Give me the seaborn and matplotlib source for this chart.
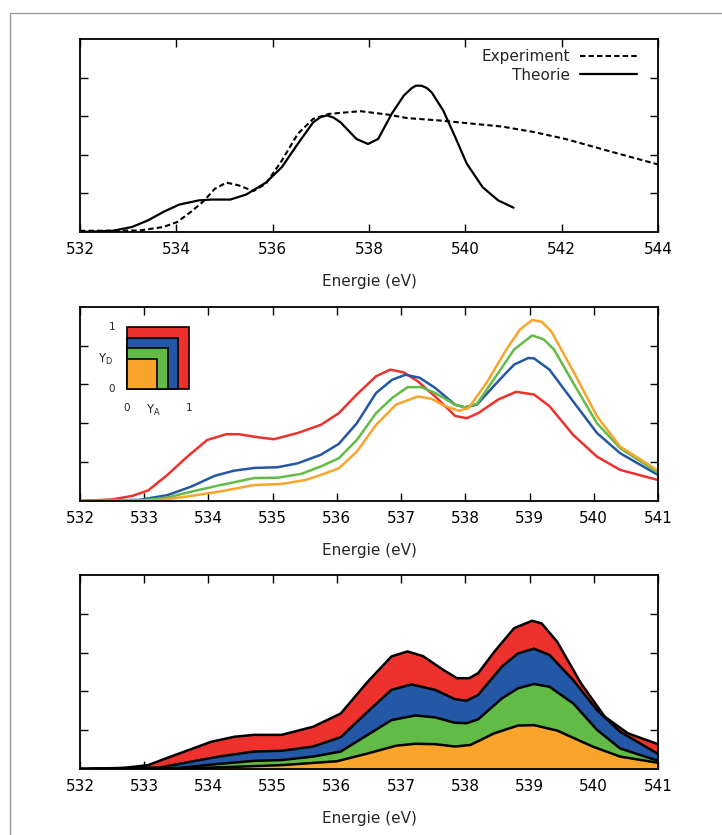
import numpy as np
import pandas as pd
import seaborn as sns
import matplotlib
matplotlib.use("Agg")
import matplotlib.pyplot as plt
from matplotlib.patches import Rectangle
from matplotlib.lines import Line2D

# --- Oben: Experiment vs. Theorie ---
exp_x = [532.0, 533.24, 533.73, 534.02, 534.3, 534.55, 534.8, 535.04, 535.29, 535.6,
         535.86, 536.19, 536.52, 536.84, 537.17, 537.82, 538.4, 538.8, 539.46, 540.2,
         540.77, 541.42, 542.08, 543.06, 544.0]
exp_y = [0.03, 0.04, 0.13, 0.26, 0.52, 0.78, 1.12, 1.28, 1.21, 1.06,
         1.25, 1.85, 2.54, 2.93, 3.06, 3.13, 3.04, 2.95, 2.89, 2.80,
         2.73, 2.59, 2.41, 2.07, 1.75]

theo_x = [532.0, 532.67, 533.08, 533.41, 533.73, 534.06, 534.47, 534.72, 535.12, 535.45,
          535.86, 536.19, 536.52, 536.84, 537.0, 537.13, 537.27, 537.41, 537.74, 537.98,
          538.19, 538.47, 538.72, 538.88, 538.97, 539.09, 539.2, 539.3, 539.54, 539.79,
          540.03, 540.36, 540.68, 541.0]
theo_y = [0.0, 0.03, 0.13, 0.30, 0.52, 0.71, 0.82, 0.84, 0.84, 0.97,
          1.28, 1.68, 2.28, 2.84, 2.98, 3.02, 2.96, 2.84, 2.41, 2.28,
          2.41, 3.06, 3.53, 3.72, 3.79, 3.79, 3.73, 3.62, 3.15, 2.46,
          1.77, 1.16, 0.82, 0.63]

# --- Mitte: Spektren fuer verschiedene Y_A / Y_D ---
red_x = [532.0, 532.5, 532.81, 533.06, 533.36, 533.67, 533.98, 534.28, 534.47, 534.77,
         535.02, 535.39, 535.75, 536.03, 536.31, 536.61, 536.83, 537.04, 537.26, 537.53,
         537.84, 538.02, 538.2, 538.51, 538.79, 539.07, 539.31, 539.68, 540.05, 540.41, 541.0]
red_y = [0.0, 0.04, 0.13, 0.27, 0.67, 1.14, 1.57, 1.72, 1.72, 1.64,
         1.59, 1.75, 1.96, 2.26, 2.74, 3.21, 3.38, 3.31, 3.08, 2.69,
         2.19, 2.13, 2.26, 2.61, 2.81, 2.74, 2.44, 1.70, 1.14, 0.80, 0.54]

blue_x = [532.0, 532.93, 533.36, 533.73, 534.1, 534.4, 534.71, 535.08, 535.39, 535.75,
          536.03, 536.31, 536.61, 536.86, 537.07, 537.29, 537.53, 537.84, 537.99, 538.18,
          538.51, 538.76, 538.98, 539.07, 539.31, 539.68, 540.05, 540.41, 541.0]
blue_y = [0.0, 0.03, 0.15, 0.37, 0.65, 0.78, 0.85, 0.87, 0.97, 1.19,
          1.47, 2.00, 2.78, 3.12, 3.25, 3.17, 2.91, 2.48, 2.41, 2.48,
          3.08, 3.51, 3.68, 3.67, 3.38, 2.56, 1.75, 1.23, 0.67]

green_x = [532.0, 532.93, 533.36, 533.73, 534.16, 534.71, 535.08, 535.45, 535.75, 536.03,
           536.31, 536.61, 536.86, 537.1, 537.31, 537.53, 537.84, 537.99, 538.18, 538.51,
           538.76, 539.04, 539.22, 539.38, 539.68, 540.05, 540.41, 541.0]
green_y = [0.0, 0.01, 0.09, 0.24, 0.40, 0.59, 0.60, 0.70, 0.89, 1.10,
           1.57, 2.26, 2.65, 2.93, 2.93, 2.78, 2.48, 2.41, 2.50, 3.29,
           3.90, 4.26, 4.16, 3.90, 3.04, 2.00, 1.36, 0.73]

orange_x = [532.0, 533.24, 533.73, 534.16, 534.71, 535.14, 535.51, 535.75, 536.03, 536.31,
            536.61, 536.92, 537.26, 537.47, 537.69, 537.9, 538.05, 538.33, 538.64, 538.85,
            539.04, 539.19, 539.34, 539.68, 540.05, 540.41, 541.0]
orange_y = [0.0, 0.02, 0.13, 0.24, 0.41, 0.44, 0.54, 0.67, 0.84, 1.27,
            1.96, 2.48, 2.69, 2.63, 2.44, 2.32, 2.39, 3.04, 3.90, 4.41,
            4.66, 4.61, 4.36, 3.34, 2.18, 1.40, 0.78]

# --- Unten: gestapelte Beitraege (kumulativ) ---
s_orange_x = [532.0, 533.55, 534.47, 535.14, 536.0, 536.48, 536.92, 537.22, 537.53, 537.84,
              538.08, 538.45, 538.82, 539.07, 539.43, 539.98, 540.41, 541.0]
s_orange_y = [0.0, 0.01, 0.06, 0.10, 0.20, 0.40, 0.60, 0.65, 0.64, 0.58,
              0.62, 0.92, 1.12, 1.13, 0.99, 0.58, 0.32, 0.16]

s_green_x = [532.0, 533.55, 534.16, 534.71, 535.14, 535.63, 536.06, 536.48, 536.85, 537.22,
             537.53, 537.84, 538.02, 538.2, 538.57, 538.82, 539.07, 539.31, 539.68, 540.05,
             540.41, 541.0]
s_green_y = [0.0, 0.03, 0.13, 0.21, 0.23, 0.32, 0.45, 0.88, 1.26, 1.38,
             1.33, 1.19, 1.18, 1.28, 1.82, 2.08, 2.19, 2.12, 1.69, 1.01,
             0.53, 0.21]

s_blue_x = [532.0, 533.24, 533.73, 534.16, 534.71, 535.14, 535.63, 536.06, 536.48, 536.85,
            537.16, 537.53, 537.84, 538.02, 538.2, 538.57, 538.82, 539.07, 539.31, 539.68,
            540.05, 540.41, 541.0]
s_blue_y = [0.0, 0.04, 0.19, 0.32, 0.45, 0.47, 0.58, 0.82, 1.48, 2.04,
            2.18, 2.04, 1.80, 1.76, 1.91, 2.64, 2.98, 3.10, 2.94, 2.29,
            1.52, 0.96, 0.39]

s_red_x = [532.0, 532.69, 533.06, 533.48, 534.04, 534.4, 534.71, 535.14, 535.63, 536.06,
           536.48, 536.85, 537.1, 537.34, 537.66, 537.87, 538.06, 538.2, 538.45, 538.76,
           539.04, 539.19, 539.43, 539.8, 540.17, 540.53, 541.0]
s_red_y = [0.0, 0.03, 0.10, 0.36, 0.70, 0.83, 0.88, 0.88, 1.09, 1.43,
           2.25, 2.90, 3.03, 2.91, 2.55, 2.34, 2.34, 2.47, 3.02, 3.63,
           3.82, 3.75, 3.28, 2.21, 1.35, 0.92, 0.64]

# Inset: Kantenlaengen der Quadrate (Y_A = Y_D)
inset_sizes = [1.0, 0.825, 0.665, 0.49]

RED = "#ED322D"
BLUE = "#2457A5"
GREEN = "#63BB47"
ORANGE = "#F9A42B"
inset_colors = [RED, BLUE, GREEN, ORANGE]

FS = 11

sns.set_style("ticks")
plt.rcParams["font.family"] = ["DejaVu Sans"]
plt.rcParams["font.size"] = FS

fig = plt.figure(figsize=(7.22, 8.35), dpi=100)
L, W = 80 / 722, 578 / 722
ax1 = fig.add_axes([L, 1 - 232 / 835, W, 193 / 835])
ax2 = fig.add_axes([L, 1 - 501 / 835, W, 194.3 / 835])
ax3 = fig.add_axes([L, 1 - 769 / 835, W, 194 / 835])


def style_axis(ax, xmin, xmax, xticks):
    ax.set_xlim(xmin, xmax)
    ax.set_ylim(0, 5)
    ax.set_xticks(xticks)
    ax.set_yticks([1, 2, 3, 4])
    ax.set_yticklabels([])
    ax.tick_params(direction="in", length=6, width=1.0, top=True, right=True,
                   labelsize=FS, pad=7.5, colors="black")
    for sp in ax.spines.values():
        sp.set_visible(True)
        sp.set_linewidth(1.3)
        sp.set_color("black")
    ax.set_xlabel("Energie (eV)", fontsize=FS, labelpad=12)
    ax.set_ylabel("")


# oben
sns.lineplot(x=exp_x, y=exp_y, ax=ax1, color="black", lw=1.5, sort=False,
             estimator=None, linestyle=(0, (2.6, 1.5)), label="Experiment")
sns.lineplot(x=theo_x, y=theo_y, ax=ax1, color="black", lw=1.6, sort=False,
             estimator=None, label="Theorie")
style_axis(ax1, 532, 544, range(532, 545, 2))
ax1.legend(loc="upper right", bbox_to_anchor=(1 - 21 / 578, 1 - 10 / 193),
           frameon=False, markerfirst=False, handlelength=3.7, handletextpad=0.7,
           labelspacing=0.25, borderpad=0, borderaxespad=0, fontsize=FS)

# mitte
for xs, ys, c in [(red_x, red_y, RED), (blue_x, blue_y, BLUE),
                  (green_x, green_y, GREEN), (orange_x, orange_y, ORANGE)]:
    sns.lineplot(x=xs, y=ys, ax=ax2, color=c, lw=1.8, sort=False, estimator=None)
style_axis(ax2, 532, 541, range(532, 542))

# inset
axi = fig.add_axes([127 / 722, 1 - 389 / 835, 62 / 722, 62 / 835])
axi.set_xlim(0, 1)
axi.set_ylim(0, 1)
axi.axis("off")
for s, c in zip(inset_sizes, inset_colors):
    axi.add_patch(Rectangle((0, 0), s, s, facecolor=c, edgecolor="black", lw=1.2,
                            clip_on=False))
fs_in = 7.5
axi.text(-0.24, 1.0, "1", ha="center", va="center", fontsize=fs_in)
axi.text(-0.24, 0.0, "0", ha="center", va="center", fontsize=fs_in)
axi.text(-0.34, 0.48, r"$\mathrm{Y_D}$", ha="center", va="center", fontsize=fs_in + 1)
axi.text(0.0, -0.31, "0", ha="center", va="center", fontsize=fs_in)
axi.text(0.42, -0.34, r"$\mathrm{Y_A}$", ha="center", va="center", fontsize=fs_in + 1)
axi.text(1.0, -0.31, "1", ha="center", va="center", fontsize=fs_in)

# unten: gestapelte Flaechen
for xs, ys, c in [(s_red_x, s_red_y, RED), (s_blue_x, s_blue_y, BLUE),
                  (s_green_x, s_green_y, GREEN), (s_orange_x, s_orange_y, ORANGE)]:
    ax3.fill_between(xs, 0, ys, color=c, lw=0)
    sns.lineplot(x=xs, y=ys, ax=ax3, color="black", lw=1.8, sort=False, estimator=None)
style_axis(ax3, 532, 541, range(532, 542))

# grauer Rahmen links/oben
fig.add_artist(Line2D([10 / 722, 10 / 722], [0, 1 - 13 / 835], transform=fig.transFigure,
                      color="#999999", lw=1.0))
fig.add_artist(Line2D([10 / 722, 1], [1 - 13 / 835, 1 - 13 / 835], transform=fig.transFigure,
                      color="#999999", lw=1.0))

fig.savefig("out.png", dpi=100)
